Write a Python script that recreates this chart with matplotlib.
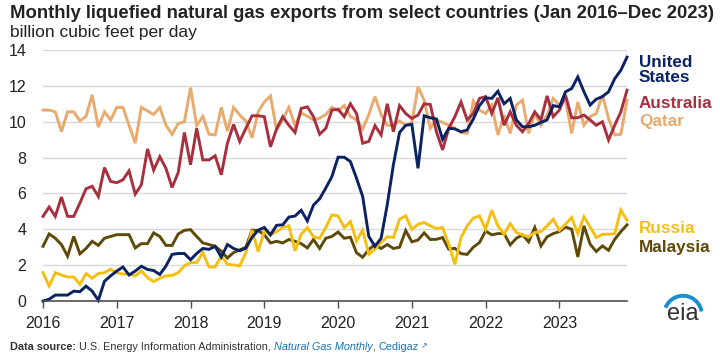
import numpy as np
import matplotlib
matplotlib.use("Agg")
from matplotlib import pyplot as plt
from matplotlib.patches import Arc

plt.rcParams['font.family'] = ['Liberation Sans', 'DejaVu Sans']

# monthly values, Jan 2016 - Dec 2023 (bcf/d)
united_states = [
    0.0, 0.1, 0.33, 0.33, 0.33, 0.55, 0.52, 0.83, 0.55, 0.04, 1.1, 1.4,
    1.67, 1.9, 1.45, 1.67, 1.94, 1.76, 1.7, 1.48, 1.95, 2.6, 2.65, 2.65,
    2.3, 2.65, 2.93, 2.88, 3.05, 2.45, 3.15, 2.93, 2.8, 2.95, 3.55, 3.95,
    4.1, 3.69, 4.22, 4.25, 4.68, 4.74, 5.06, 4.47, 5.35, 5.7, 6.3, 6.94,
    8.02, 8.02, 7.78, 6.85, 5.83, 3.6, 3.05, 3.5, 5.37, 7.6, 9.4, 9.8,
    9.85, 7.4, 10.33, 10.22, 10.15, 9.02, 9.63, 9.6, 9.44, 9.54, 10.15, 10.9,
    11.33, 11.3, 11.7, 11.0, 11.3, 10.1, 9.72, 9.72, 9.8, 9.96, 10.1, 10.9,
    10.83, 11.67, 11.85, 12.5, 11.67, 10.93, 11.26, 11.4, 11.67, 12.4, 12.87, 13.6,
]
australia = [
    4.72, 5.24, 4.72, 5.8, 4.72, 4.72, 5.46, 6.26, 6.4, 5.83, 7.44, 6.67,
    6.6, 6.76, 7.26, 5.96, 6.48, 8.48, 7.3, 8.05, 7.4, 6.33, 7.17, 9.4,
    7.6, 9.63, 7.87, 7.87, 8.1, 7.04, 8.8, 9.85, 8.9, 9.63, 10.33, 10.33,
    10.28, 8.6, 9.6, 10.28, 9.8, 9.4, 10.74, 10.83, 10.28, 9.3, 9.63, 10.65,
    10.7, 10.28, 11.0, 10.46, 8.8, 8.9, 9.78, 9.26, 11.0, 9.44, 10.9, 10.46,
    10.18, 10.37, 11.0, 10.96, 9.44, 8.43, 9.63, 10.28, 11.1, 10.1, 10.46, 11.3,
    11.4, 10.46, 11.33, 9.8, 10.55, 9.8, 9.44, 9.9, 10.55, 10.1, 11.44, 10.28,
    10.65, 11.48, 10.22, 10.22, 10.37, 10.1, 9.8, 10.0, 8.98, 9.8, 10.55, 11.76,
]
qatar = [
    10.65, 10.65, 10.55, 9.45, 10.55, 10.55, 10.05, 10.3, 11.5, 9.7, 10.55, 10.1,
    10.8, 10.8, 9.8, 8.8, 10.8, 10.6, 10.4, 10.8, 9.8, 9.3, 9.9, 10.0,
    11.9, 9.78, 10.3, 9.3, 9.26, 10.8, 9.48, 10.8, 10.37, 10.04, 9.1, 10.55,
    11.1, 11.44, 9.54, 10.1, 10.8, 9.8, 10.5, 10.3, 10.1, 10.2, 10.4, 10.8,
    10.6, 10.9, 10.3, 10.1, 9.6, 10.4, 11.4, 10.4, 9.8, 9.8, 10.04, 9.8,
    9.96, 11.94, 11.2, 9.63, 10.1, 9.96, 9.8, 9.63, 9.4, 9.35, 11.15, 10.65,
    10.46, 10.93, 9.26, 10.37, 9.35, 10.93, 11.2, 9.35, 10.46, 9.8, 10.37, 11.3,
    10.93, 11.2, 9.35, 11.1, 9.8, 10.28, 10.46, 11.48, 10.18, 9.26, 9.3, 11.2,
]
russia = [
    1.58, 0.84, 1.58, 1.45, 1.34, 1.34, 0.93, 1.53, 1.27, 1.53, 1.58, 1.77,
    1.58, 1.5, 1.5, 1.4, 1.68, 1.3, 1.08, 1.27, 1.4, 1.43, 1.58, 1.96,
    2.14, 2.14, 2.7, 1.9, 1.9, 2.51, 2.05, 2.01, 1.96, 2.7, 3.95, 2.76,
    3.9, 3.69, 3.87, 4.1, 4.19, 2.8, 3.72, 4.1, 3.58, 3.5, 4.1, 4.8,
    4.75, 4.1, 4.43, 3.35, 3.95, 2.6, 2.89, 3.26, 3.58, 3.54, 4.56, 4.75,
    4.0, 4.28, 4.38, 4.19, 4.04, 4.1, 3.17, 2.05, 3.54, 4.19, 4.62, 4.75,
    4.0, 5.07, 4.19, 3.72, 4.32, 3.82, 3.69, 3.58, 3.82, 3.87, 4.19, 4.56,
    3.95, 4.28, 4.66, 3.76, 4.7, 4.13, 3.54, 3.72, 3.72, 3.76, 5.07, 4.5,
]
malaysia = [
    3.05, 3.74, 3.5, 3.15, 2.5, 3.6, 2.63, 2.93, 3.33, 3.1, 3.5, 3.6,
    3.7, 3.7, 3.7, 2.96, 3.2, 3.2, 3.8, 3.6, 3.1, 3.1, 3.74, 3.94,
    3.98, 3.6, 3.24, 3.15, 3.05, 2.78, 2.4, 2.7, 2.85, 3.0, 3.95, 3.93,
    3.7, 3.24, 3.33, 3.24, 3.43, 3.33, 3.2, 2.96, 3.43, 2.93, 3.5, 3.6,
    3.85, 3.5, 3.56, 2.69, 2.44, 2.87, 3.15, 2.93, 3.15, 2.93, 3.0, 3.93,
    3.3, 3.4, 3.8, 3.43, 3.44, 3.54, 2.89, 2.94, 2.64, 2.6, 3.0, 3.26,
    3.9, 3.69, 3.76, 3.76, 3.13, 3.5, 3.69, 3.3, 4.1, 3.07, 3.58, 3.76,
    3.87, 4.13, 4.0, 2.46, 4.19, 3.17, 2.76, 3.07, 2.83, 3.44, 3.87, 4.25,
]
year_ticks = list(range(2016, 2024))

months = 2016 + np.arange(len(united_states)) / 12.0

series = [
    ("Qatar", qatar, "#e8aa6e"),
    ("Australia", australia, "#a8303e"),
    ("Malaysia", malaysia, "#5e4a06"),
    ("Russia", russia, "#f5bf12"),
    ("United States", united_states, "#0b2263"),
]

fig = plt.figure(figsize=(7.2, 3.63), dpi=100)
ax = fig.add_axes([43 / 720, 1 - 301 / 363, 584 / 720, 251 / 363])

for name, vals, col in series:
    ax.plot(months, vals, color=col, linewidth=2.1, solid_joinstyle='miter',
            clip_on=False, zorder=3)

ax.set_xlim(2016, months[-1])
ax.set_ylim(0, 14)
ax.set_yticks(range(0, 15, 2))
ax.set_xticks(year_ticks)
ax.set_xticklabels([str(y) for y in year_ticks])
ax.grid(axis='y', color='#d9d9d9', linewidth=1.0, zorder=0)
for side in ['top', 'right', 'left']:
    ax.spines[side].set_visible(False)
ax.spines['bottom'].set_color('#505050')
ax.spines['bottom'].set_linewidth(1.2)
ax.spines['bottom'].set_zorder(4)
ax.tick_params(axis='y', length=0, labelsize=11.5, pad=12, colors='#222222')
ax.tick_params(axis='x', length=5, width=1.0, color='#505050', labelsize=11.5,
               pad=6, colors='#222222')

# right-hand labels
lab_x = 1.0 + 12 / 584
labels = [
    ("United\nStates", 12.9, "#0b2263"),
    ("Australia", 11.0, "#a8303e"),
    ("Qatar", 10.0, "#e8aa6e"),
    ("Russia", 4.05, "#f5bf12"),
    ("Malaysia", 3.0, "#5e4a06"),
]
for txt, yv, col in labels:
    ax.text(lab_x, yv, txt, transform=ax.get_yaxis_transform(), color=col,
            fontsize=12.3, fontweight='bold', va='center', ha='left',
            linespacing=1.0)

# title and units
fig.text(10 / 720, 1 - 14 / 363, "Monthly liquefied natural gas exports from select countries (Jan 2016\u2013Dec 2023)",
         fontsize=13.3, fontweight='bold', va='center', ha='left', color='#222222')
fig.text(10 / 720, 1 - 33 / 363, "billion cubic feet per day", fontsize=12.5,
         va='center', ha='left', color='#222222')

# footer with mixed styles
fig.canvas.draw()
renderer = fig.canvas.get_renderer()
parts = [
    ("Data source:", dict(fontweight='bold', color='#333333')),
    (" U.S. Energy Information Administration, ", dict(color='#333333')),
    ("Natural Gas Monthly", dict(style='italic', color='#1a73b8')),
    (", ", dict(color='#333333')),
    ("Cedigaz", dict(color='#1a73b8')),
    (" \u2197", dict(color='#1a73b8', fontsize=5.5)),
]
xpos = 10
ypos = 1 - 347 / 363
for txt, kw in parts:
    size = kw.pop('fontsize', 7.8)
    t = fig.text(xpos / 720, ypos, txt, fontsize=size, va='center', ha='left', **kw)
    bb = t.get_window_extent(renderer=renderer)
    xpos += bb.width

# eia logo
fig.text(683 / 720, 1 - 314 / 363, "eia", fontsize=17, color='#333333',
         ha='center', va='center')
logo = fig.add_axes([663 / 720, 1 - 322 / 363, 40 / 720, 30 / 363])
logo.set_xlim(-1, 1)
logo.set_ylim(-1, 1)
logo.axis('off')
logo.add_patch(Arc((0.0, -0.55), 1.9, 2.6, theta1=15, theta2=150,
                   color='#1a8fd0', linewidth=2.8))

fig.savefig("out.png", dpi=100)
